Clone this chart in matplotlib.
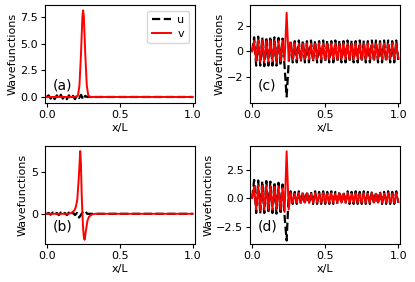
import matplotlib
matplotlib.use("Agg")
import matplotlib.pyplot as plt
import numpy as np

# siatka dla paneli z oscylacjami (c, d) i dla u w (a), (b)
x_grid = np.linspace(0, 1, 73)

# panel (a)
u_a = [0.0, 0.15, -0.15, 0.1, -0.2, 0.15, -0.1, 0.2, -0.15, 0.1, -0.2,
       0.15, -0.15, 0.1, -0.2, 0.15, -0.1, 0.2, -0.25, 0.1, 0.0] + [0.0] * 52
x_va = [0.0, 0.19, 0.205, 0.215, 0.225, 0.235, 0.245, 0.25, 0.255, 0.265,
        0.275, 0.285, 0.295, 0.31, 1.0]
v_a = [0.0, 0.0, 0.02, 0.16, 1.1, 3.9, 7.5, 8.1, 7.5, 3.9, 1.1, 0.16,
       0.02, 0.0, 0.0]

# panel (b)
u_b = [0.0, 0.1, -0.1, 0.15, -0.1, 0.1, -0.15, 0.15, -0.1, 0.1, -0.15,
       0.15, -0.1, 0.15, -0.15, 0.1, -0.45, -0.1, 0.3, 0.35, 0.0] + [0.0] * 52
x_vb = [0.0, 0.15, 0.17, 0.19, 0.20, 0.21, 0.22, 0.23, 0.235, 0.24, 0.245,
        0.25, 0.255, 0.26, 0.27, 0.28, 0.29, 0.31, 0.33, 1.0]
v_b = [0.0, 0.0, 0.1, 0.4, 0.8, 1.7, 4.2, 7.5, 6.0, 2.5, 0.0, -1.8, -2.8,
       -3.1, -1.9, -0.8, -0.35, -0.08, 0.0, 0.0]

# panel (c)
u_c = ([0.0, 1.1, -1.1, 1.15, -1.1, 1.1, -1.15, 1.1, -1.1, 1.15, -1.1,
        1.1, -1.1, 1.05, -1.1, 1.0, -1.2, -3.5] +
       [-0.9, 0.85, -0.85, 0.8, -0.85, 0.85, -0.8, 0.85, -0.85, 0.8,
        -0.85, 0.85, -0.8, 0.85, -0.85, 0.8, -0.85, 0.85, -0.8, 0.85,
        -0.85, 0.8, -0.85, 0.85, -0.8, 0.85, -0.85, 0.8, -0.85, 0.85,
        -0.8, 0.85, -0.85, 0.8, -0.85, 0.85, -0.8, 0.85, -0.85, 0.8,
        -0.85, 0.85, -0.8, 0.85, -0.85, 0.8, -0.85, 0.85, -0.8, 0.85,
        -0.85, 0.8, -0.85, 0.85, -0.7])
v_c = ([0.0, 0.8, -0.75, 0.85, -0.8, 0.85, -0.8, 0.8, -0.8, 0.85, -0.75,
        0.8, -0.8, 0.8, -0.75, 0.8, -0.7, 3.0] +
       [-0.7, 0.65, -0.6, 0.65, -0.6, 0.6, -0.65, 0.6, -0.6, 0.65,
        -0.6, 0.6, -0.65, 0.6, -0.6, 0.65, -0.6, 0.6, -0.65, 0.6,
        -0.6, 0.65, -0.6, 0.6, -0.65, 0.6, -0.6, 0.65, -0.6, 0.6,
        -0.65, 0.6, -0.6, 0.65, -0.6, 0.6, -0.65, 0.6, -0.6, 0.65,
        -0.6, 0.6, -0.65, 0.6, -0.6, 0.65, -0.6, 0.6, -0.65, 0.6,
        -0.6, 0.65, -0.6, 0.6, -0.5])

# panel (d)
u_d = ([0.0, 1.6, -1.3, 1.55, -1.35, 1.5, -1.3, 1.5, -1.3, 1.45, -1.3,
        1.4, -1.35, 1.35, -1.4, 1.2, -1.6, -3.7, 0.3] +
       [0.6, -0.5, 0.55, -0.5, 0.6, -0.5, 0.55, -0.5, 0.6, -0.5,
        0.55, -0.5, 0.6, -0.5, 0.55, -0.5, 0.6, -0.5, 0.55, -0.5,
        0.6, -0.5, 0.55, -0.5, 0.6, -0.5, 0.55, -0.5, 0.6, -0.5,
        0.55, -0.5, 0.6, -0.5, 0.55, -0.5, 0.6, -0.5, 0.55, -0.5,
        0.6, -0.5, 0.55, -0.5, 0.6, -0.5, 0.55, -0.5, 0.6, -0.5,
        0.55, -0.5, 0.6, -0.4])
v_d = ([0.0, 1.0, -1.0, 1.1, -1.05, 1.1, -1.0, 1.1, -1.0, 1.05, -1.0,
        1.0, -0.95, 1.0, -1.0, 0.9, -1.2, 4.1, -1.0] +
       [0.45, -0.4, 0.4, -0.4, 0.45, -0.4, 0.4, -0.4, 0.45, -0.4,
        0.4, -0.4, 0.45, -0.4, 0.4, -0.4, 0.45, -0.4, 0.4, -0.4,
        0.45, -0.4, 0.4, -0.4, 0.45, -0.4, 0.4, -0.4, 0.45, -0.4,
        0.4, -0.4, 0.45, -0.4, 0.4, -0.4, 0.45, -0.4, 0.4, -0.4,
        0.45, -0.4, 0.4, -0.4, 0.45, -0.4, 0.4, -0.4, 0.45, -0.4,
        0.4, -0.4, 0.45, -0.3])

panels = [
    ["(a)", x_grid, u_a, x_va, v_a, (-0.56, 8.6), [0.0, 2.5, 5.0, 7.5]],
    ["(c)", x_grid, u_c, x_grid, v_c, (-4.0, 3.6), [-2, 0, 2]],
    ["(b)", x_grid, u_b, x_vb, v_b, (-3.6, 8.1), [0, 5]],
    ["(d)", x_grid, u_d, x_grid, v_d, (-4.0, 4.56), [-2.5, 0.0, 2.5]],
]

plt.rcParams["font.size"] = 8
fig, axes = plt.subplots(2, 2, figsize=(4.15, 2.82), dpi=100)
fig.subplots_adjust(left=0.108, right=0.964, top=0.982, bottom=0.135,
                    wspace=0.373, hspace=0.44)

for ax, (tag, xu, u, xv, v, ylim, yticks) in zip(axes.flatten(), panels):
    ax.plot(xu, u, "k--", lw=1.6, label="u")
    ax.plot(xv, v, "r-", lw=1.4, label="v")
    ax.set_xlim(-0.012, 1.012)
    ax.set_ylim(*ylim)
    ax.set_xticks([0.0, 0.5, 1.0])
    ax.set_yticks(yticks)
    ax.set_xlabel("x/L", labelpad=2)
    ax.set_ylabel("Wavefunctions", labelpad=2)
    ax.tick_params(length=3, pad=2)
    ax.text(0.05, 0.18, tag, transform=ax.transAxes, fontsize=10,
            va="center", ha="left")

axes[0, 0].legend(loc="upper right", handlelength=1.7, handletextpad=0.6,
                  labelspacing=0.35)

fig.savefig("out.png", dpi=100)
